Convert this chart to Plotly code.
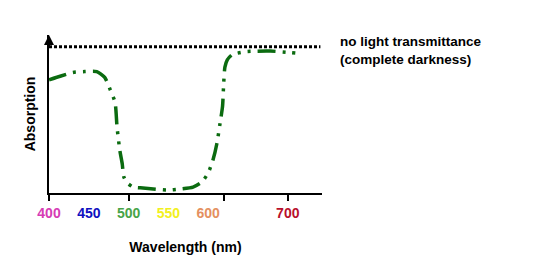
import plotly.graph_objects as go

# Data
wavelength = [400, 415, 430, 445, 460, 470, 477, 483, 485.5, 489, 492, 494, 498, 506, 518, 531, 548,
              565, 581, 592, 600, 606, 611, 615, 618, 619.5, 621, 624, 630, 647, 678, 703, 718]
absorption = [0.774, 0.80, 0.824, 0.83, 0.83, 0.79, 0.705, 0.62, 0.45, 0.29, 0.2, 0.11, 0.07, 0.04, 0.034, 0.027, 0.02,
              0.027, 0.04, 0.075, 0.137, 0.226, 0.34, 0.48, 0.59, 0.75, 0.86, 0.91, 0.945, 0.966, 0.97, 0.96, 0.952]
darkness_x = [400, 741]
darkness_y = [1.0, 1.0]

tick_vals = [400, 450, 500, 550, 600, 700]
tick_colors = ["#d63cb4", "#1010c0", "#48a448", "#f2f020", "#e49060", "#b8102c"]
axis_tick_vals = [400, 500, 620, 700]
tick_text = [f"<b><span style='color:{c}'>{v}</span></b>" for v, c in zip(tick_vals, tick_colors)]

fig = go.Figure()
fig.add_trace(go.Scatter(x=darkness_x, y=darkness_y, mode="lines",
                         line=dict(color="black", width=3, dash="3px,2px"),
                         hoverinfo="skip", showlegend=False))
fig.add_trace(go.Scatter(x=wavelength, y=absorption, mode="lines",
                         line=dict(color="#0b6b10", width=3.5, dash="18px,7px,3px,7px,3px,7px",
                                   shape="spline", smoothing=0.6),
                         showlegend=False))
# trace on the overlay axis that carries the coloured labels
fig.add_trace(go.Scatter(x=darkness_x, y=darkness_y, xaxis="x2", mode="lines",
                         line=dict(color="rgba(0,0,0,0)", width=1), hoverinfo="skip", showlegend=False))

fig.update_layout(
    width=550, height=272,
    margin=dict(l=49, r=228, t=35, b=79),
    paper_bgcolor="white", plot_bgcolor="white",
    font=dict(family="Liberation Sans, Arial, sans-serif", color="black"),
    xaxis=dict(range=[400, 743], showline=True, linecolor="black", linewidth=2,
               showgrid=False, zeroline=False,
               tickmode="array", tickvals=axis_tick_vals, ticks="outside",
               ticklen=6, tickwidth=2, tickcolor="black", showticklabels=False,
               title=dict(text="<b>Wavelength (nm)</b>", font=dict(size=14), standoff=42)),
    xaxis2=dict(range=[400, 743], overlaying="x", anchor="y", side="bottom",
                showline=False, showgrid=False, zeroline=False,
                tickmode="array", tickvals=tick_vals, ticktext=tick_text, ticks="",
                ticklabelstandoff=10,
                tickfont=dict(size=14, family="Liberation Sans, Arial, sans-serif")),
    yaxis=dict(range=[0, 1.08], showline=True, linecolor="black", linewidth=2,
               showgrid=False, zeroline=False, showticklabels=False, ticks="",
               title=dict(text="<b>Absorption</b>", font=dict(size=14), standoff=8)),
)

fig.add_annotation(x=400, y=1.08, xref="x", yref="y", ax=0, ay=14, axref="pixel", ayref="pixel",
                   showarrow=True, arrowhead=2, arrowsize=1, arrowwidth=2, arrowcolor="black", text="")
fig.add_annotation(x=1.0, y=1.0, xref="paper", yref="paper", xanchor="left", yanchor="top",
                   xshift=16, yshift=3, align="left", showarrow=False,
                   text="<b>no light transmittance<br>(complete darkness)</b>",
                   font=dict(size=13.5, color="black"))

fig.write_html("out.html")
